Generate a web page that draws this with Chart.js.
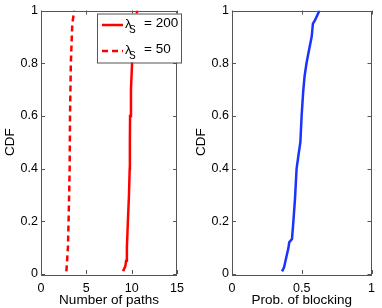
<!DOCTYPE html>
<html>
<head>
<meta charset="utf-8">
<script src="https://cdn.jsdelivr.net/npm/chart.js@4.4.0/dist/chart.umd.min.js"></script>
<style>
  body { margin: 0; background: #fff; }
  .panel { position: absolute; top: 0; width: 191px; height: 308px; }
</style>
</head>
<body>
<div class="panel" style="left:0"><canvas id="pathsChart" width="191" height="308"></canvas></div>
<div class="panel" style="left:191px"><canvas id="blockChart" width="191" height="308"></canvas></div>
<script>
// --- data ---
// left panel: number of paths, two arrival rates
const paths200Levels = [0.01, 0.03, 0.05, 0.1, 0.2, 0.3, 0.4, 0.5, 0.6, 0.7, 0.8, 0.9, 0.95, 1.0];
const paths200Values = [9.05, 9.3, 9.38, 9.47, 9.58, 9.7, 9.78, 9.8, 9.82, 9.92, 10.04, 10.2, 10.35, 10.62];
const paths50Levels  = [0.01, 0.1, 0.2, 0.4, 0.6, 0.8, 0.95, 1.0];
const paths50Values  = [2.8, 2.97, 3.04, 3.16, 3.2, 3.29, 3.45, 3.67];

// right panel: blocking probability
const blockLevels = [0.01, 0.025, 0.07, 0.1, 0.12, 0.133, 0.2, 0.29, 0.4, 0.457, 0.5, 0.6, 0.69, 0.75, 0.8, 0.85, 0.9, 0.95, 0.962, 1.0];
const blockValues = [0.359, 0.373, 0.392, 0.405, 0.41, 0.43, 0.44, 0.452, 0.463, 0.478, 0.49, 0.499, 0.51, 0.52, 0.534, 0.552, 0.571, 0.58, 0.594, 0.627];

const legendLabels = ['200', '50'];
const pathsTicks = [0, 5, 10, 15];
const blockTicks = [0, 0.5, 1];
const cdfTicks = [0, 0.2, 0.4, 0.6, 0.8, 1];

const FONT = "'Liberation Sans', Arial, Helvetica, sans-serif";
const AXIS_COLOR = '#555';

function toPoints(values, levels) {
    return values.map((v, i) => ({ x: v, y: levels[i] }));
}

// MATLAB style box with inward ticks
const boxPlugin = {
    id: 'matlabBox',
    afterDatasetsDraw(chart) {
        const { ctx, chartArea: a, scales } = chart;
        ctx.save();
        ctx.strokeStyle = AXIS_COLOR;
        ctx.lineWidth = 1;
        ctx.strokeRect(Math.round(a.left) + 0.5, Math.round(a.top) + 0.5,
            Math.round(a.right - a.left) - 1, Math.round(a.bottom - a.top));
        const len = 4;
        ctx.beginPath();
        scales.x.ticks.forEach(t => {
            const px = Math.round(scales.x.getPixelForValue(t.value)) + 0.5;
            ctx.moveTo(px, a.bottom); ctx.lineTo(px, a.bottom - len);
            ctx.moveTo(px, a.top); ctx.lineTo(px, a.top + len);
        });
        scales.y.ticks.forEach(t => {
            const py = Math.round(scales.y.getPixelForValue(t.value)) + 0.5;
            ctx.moveTo(a.left, py); ctx.lineTo(a.left + len, py);
            ctx.moveTo(a.right, py); ctx.lineTo(a.right - len, py);
        });
        ctx.stroke();
        ctx.restore();
    }
};

// legend with a subscript, drawn by hand
const lambdaLegend = {
    id: 'lambdaLegend',
    afterDraw(chart) {
        const ctx = chart.ctx;
        const a = chart.chartArea;
        const x0 = a.left + 56, y0 = a.top + 3, w = 84, h = 49;
        ctx.save();
        ctx.fillStyle = '#fff';
        ctx.fillRect(x0, y0, w, h);
        ctx.strokeStyle = AXIS_COLOR;
        ctx.lineWidth = 1;
        ctx.strokeRect(x0 + 0.5, y0 + 0.5, w, h);
        chart.data.datasets.forEach((ds, i) => {
            const ly = y0 + 11.5 + i * 26;
            ctx.strokeStyle = ds.borderColor;
            ctx.lineWidth = ds.borderWidth;
            ctx.setLineDash(ds.borderDash || []);
            ctx.beginPath();
            ctx.moveTo(x0 + 5, ly);
            ctx.lineTo(x0 + 26, ly);
            ctx.stroke();
            ctx.setLineDash([]);
            ctx.fillStyle = '#000';
            ctx.textBaseline = 'alphabetic';
            ctx.font = '13.5px ' + FONT;
            ctx.fillText('λ', x0 + 28, ly + 3);
            ctx.font = '10px ' + FONT;
            ctx.fillText('S', x0 + 32, ly + 8);
            ctx.font = '13.5px ' + FONT;
            ctx.fillText('= ' + legendLabels[i], x0 + 47, ly + 2);
        });
        ctx.restore();
    }
};

function axisOptions(min, max, ticks, title, isX) {
    return {
        type: 'linear',
        min: min,
        max: max,
        afterBuildTicks: scale => { scale.ticks = ticks.map(v => ({ value: v })); },
        ticks: {
            color: '#000',
            padding: isX ? 7 : 3,
            maxRotation: 0,
            font: { family: FONT, size: 12.5 },
            callback: v => String(Math.round(v * 100) / 100)
        },
        grid: { display: false, drawTicks: false },
        border: { display: false },
        title: {
            display: true,
            text: title,
            color: '#000',
            font: { family: FONT, size: 13.5 },
            padding: isX ? 0 : { top: 2, bottom: 0 }
        },
        afterFit: scale => {
            if (isX) scale.height = 34; else scale.width = 41;
        }
    };
}

function baseOptions(xMax, xTicks, xTitle) {
    return {
        responsive: false,
        animation: false,
        layout: { padding: { top: 10, right: 7, left: 0, bottom: 0 } },
        plugins: { legend: { display: false }, tooltip: { enabled: false } },
        elements: { point: { radius: 0 }, line: { tension: 0 } },
        scales: {
            x: axisOptions(0, xMax, xTicks, xTitle, true),
            y: axisOptions(0, 1, cdfTicks, 'CDF', false)
        }
    };
}

new Chart(document.getElementById('pathsChart'), {
    type: 'line',
    data: {
        datasets: [{
            label: 'λS = 200',
            data: toPoints(paths200Values, paths200Levels),
            borderColor: '#ff0000',
            borderWidth: 2.5
        }, {
            label: 'λS = 50',
            data: toPoints(paths50Values, paths50Levels),
            borderColor: '#ff0000',
            borderWidth: 2.5,
            borderDash: [6, 4]
        }]
    },
    options: baseOptions(15, pathsTicks, 'Number of paths'),
    plugins: [boxPlugin, lambdaLegend]
});

new Chart(document.getElementById('blockChart'), {
    type: 'line',
    data: {
        datasets: [{
            label: 'Prob. of blocking',
            data: toPoints(blockValues, blockLevels),
            borderColor: '#1a33ff',
            borderWidth: 2.5
        }]
    },
    options: baseOptions(1, blockTicks, 'Prob. of blocking'),
    plugins: [boxPlugin]
});
</script>
</body>
</html>
